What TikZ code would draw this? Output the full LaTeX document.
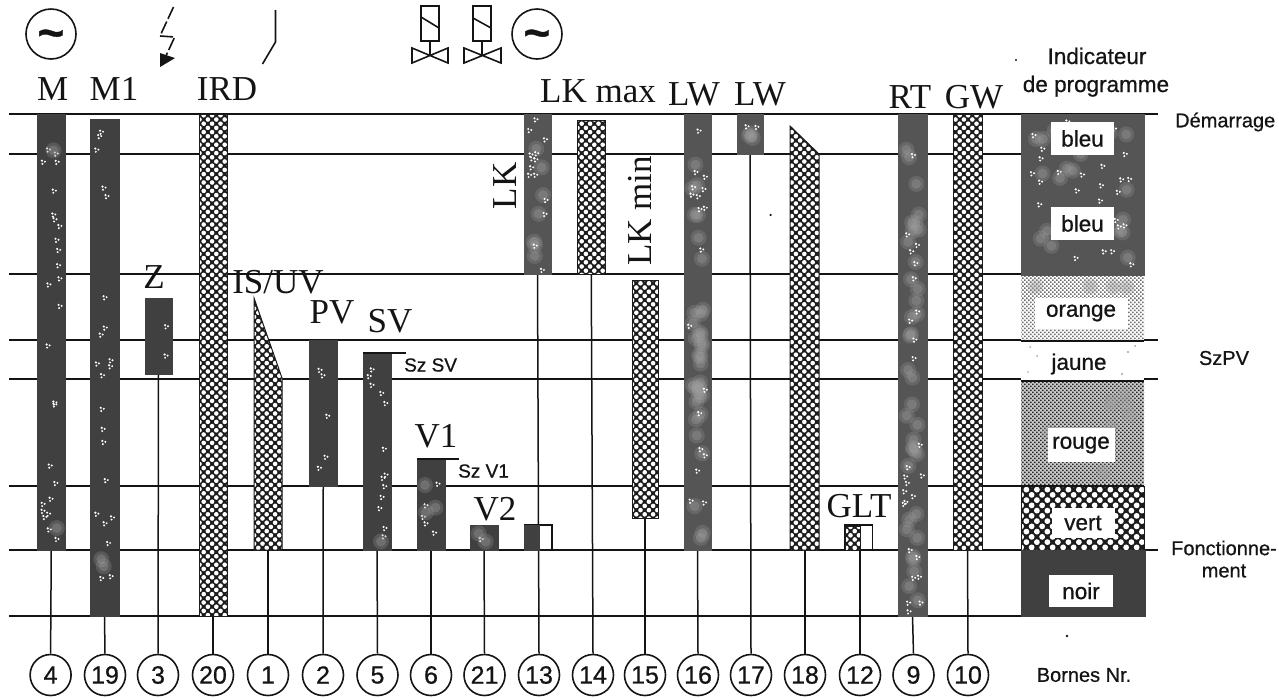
\documentclass[tikz,border=0pt]{standalone}
\usepackage{fontspec}
\setmainfont{Liberation Serif}
\newfontfamily\sansf{Liberation Sans}[RawFeature={embolden=0.7}]
\usetikzlibrary{patterns,arrows.meta,calc}
\pgfdeclarelayer{bg}\pgfsetlayers{bg,main}
\definecolor{ink}{HTML}{141414}
\definecolor{darkbar}{HTML}{404040}
\definecolor{midbar}{HTML}{555555}
\definecolor{hatch}{HTML}{1C1C1C}
\pgfdeclarepatternformonly{holes}{\pgfqpoint{-1pt}{-1pt}}{\pgfqpoint{9.5pt}{9.5pt}}{\pgfqpoint{8.4pt}{8.4pt}}{%
 \pgfpathcircle{\pgfqpoint{2.1pt}{2.1pt}}{2.3pt}\pgfpathcircle{\pgfqpoint{6.3pt}{6.3pt}}{2.3pt}\pgfusepath{fill}}
\pgfdeclarepatternformonly{holesB}{\pgfqpoint{-1pt}{-1pt}}{\pgfqpoint{13pt}{13pt}}{\pgfqpoint{10.5pt}{10.5pt}}{%
 \pgfpathcircle{\pgfqpoint{2.625pt}{2.625pt}}{2.9pt}\pgfpathcircle{\pgfqpoint{7.875pt}{7.875pt}}{2.9pt}\pgfusepath{fill}}
\pgfdeclarepatternformonly{finegrain}{\pgfqpoint{-1pt}{-1pt}}{\pgfqpoint{5pt}{5pt}}{\pgfqpoint{4pt}{4pt}}{%
 \pgfpathrectangle{\pgfqpoint{0pt}{0pt}}{\pgfqpoint{1.7pt}{1.5pt}}\pgfpathrectangle{\pgfqpoint{2pt}{2pt}}{\pgfqpoint{1.7pt}{1.5pt}}\pgfusepath{fill}}
\tikzset{
 x=1pt,y=-1pt,
 hline/.style={ink,line width=1.6pt},
 thick line/.style={ink,line width=2.6pt},
 vline/.style={ink,line width=1.5pt},
 solidbar/.style={rectangle,inner sep=0pt,outer sep=0pt,fill=darkbar,draw=darkbar,line width=.5pt},
 lightbar/.style={rectangle,inner sep=0pt,outer sep=0pt,fill=midbar,draw=midbar,line width=.5pt},
 hatchbar/.style={rectangle,inner sep=0pt,outer sep=0pt,draw=hatch,line width=1pt,preaction={fill=hatch},pattern=holes,pattern color=white},
 hatchbig/.style={rectangle,inner sep=0pt,outer sep=0pt,draw=hatch,line width=1pt,preaction={fill=hatch},pattern=holesB,pattern color=white},
 hatchshape/.style={draw=hatch,line width=1pt,preaction={fill=hatch},pattern=holes,pattern color=white},
 plainbar/.style={rectangle,inner sep=0pt,outer sep=0pt,draw=ink,line width=1.4pt,fill=white},
 term/.style={circle,draw=ink,line width=1.6pt,fill=white,minimum size=41pt,inner sep=0pt,font=\sansf\fontsize{25}{25}\selectfont,text=ink},
 lab/.style={inner sep=0pt,anchor=base,text=ink,font=\fontsize{35}{35}\selectfont},
 sidelab/.style={inner sep=0pt,text=ink,font=\sansf\fontsize{20}{20}\selectfont},
 tag/.style={inner sep=0pt,anchor=base,text=ink,font=\sansf\fontsize{22.5}{22.5}\selectfont},
 idxbox/.style={rectangle,fill=white,inner sep=0pt,text=ink,font=\sansf\fontsize{22.5}{22.5}\selectfont},
 sym/.style={ink,line width=1.6pt},
}
\newcommand{\barnode}[6]{% name x0 x1 ytop ybot style
 \pgfmathsetmacro\bw{#3-#2}\pgfmathsetmacro\bh{#5-#4}
 \node[#6,minimum width=\bw pt,minimum height=\bh pt] (#1) at ({(#2+#3)/2},{(#4+#5)/2}) {};}
\newcommand{\speck}[5]{% x0 x1 y0 y1 n
 \foreach \i in {1,...,#5}{
  \pgfmathsetmacro\sx{#1+4+rnd*(#2-#1-10)}
  \pgfmathsetmacro\sy{#3+4+rnd*(#4-#3-9)}
  \fill[white] (\sx,\sy) circle (1.2pt) (\sx+3,\sy+1) circle (1.1pt) (\sx+.5,\sy+3.2) circle (1.1pt);
 }}
\newcommand{\blot}[5]{% x0 x1 y0 y1 n
 \foreach \i in {1,...,#5}{
  \pgfmathsetmacro\sx{#1+8+rnd*(#2-#1-16)}
  \pgfmathsetmacro\sy{#3+8+rnd*(#4-#3-16)}
  \fill[gray!80,opacity=.28] (\sx,\sy) circle (8pt);
  \fill[gray!70,opacity=.3] (\sx,\sy) circle (5pt);
 }}
\begin{document}
\begin{tikzpicture}
\useasboundingbox (0,0) rectangle (1279,697);
\pgfmathsetseed{4711}
% bars
\barnode{bM}{37.5}{65}{114}{550}{solidbar}
\barnode{bMa}{90}{119}{119}{616}{solidbar}
\barnode{bZ}{145}{172}{298}{374}{solidbar}
\barnode{bIRD}{199}{227}{114}{616}{hatchbar}
\barnode{bPV}{309}{337.5}{340}{486}{solidbar}
\barnode{bSV}{363}{391}{353}{550}{solidbar}
\barnode{bVa}{417}{445}{459}{550}{solidbar}
\barnode{bVb}{470}{498}{525}{550}{solidbar}
\barnode{bXo}{524.5}{552}{525}{550}{plainbar}
\barnode{bXd}{524.5}{539}{525}{550}{solidbar}
\barnode{bLK}{524}{551}{114}{274}{lightbar}
\barnode{bLKx}{577.5}{605}{120}{274}{hatchbar}
\barnode{bLKn}{632}{658}{280}{518}{hatchbar}
\barnode{bLW}{684}{711}{114}{550}{lightbar}
\barnode{bLWb}{737}{763}{114}{154}{lightbar}
\barnode{bRT}{898}{927}{114}{616}{lightbar}
\barnode{bGW}{953}{982}{114}{550}{hatchbar}
\barnode{bGo}{845}{872.5}{525}{550}{plainbar}
\barnode{bGd}{845}{860}{526}{550}{hatchbar}
\draw[hatchshape] (254,298) -- (282,378) -- (282,550) -- (254,550) -- cycle;
\draw[hatchshape] (790,126) -- (819,154) -- (819,550) -- (790,550) -- cycle;
\coordinate (bIS) at (268,550);
\coordinate (bEi) at (805,550);
% indicator
\barnode{iBlue}{1021}{1144}{114}{275}{lightbar}
\barnode{iOrange}{1021}{1144}{276}{340}{rectangle,pattern=finegrain,pattern color=gray!85!black,preaction={fill=white}}
\barnode{iJaune}{1021}{1144}{341}{380}{rectangle,fill=white}
\barnode{iRouge}{1021}{1144}{381}{486}{rectangle,preaction={fill=gray!40},pattern=finegrain,pattern color=black!85}
\barnode{iVert}{1021}{1144}{486}{550}{hatchbig}
\barnode{iNoir}{1021}{1145}{550}{616}{solidbar}
% speckles
\speck{37.5}{65}{114}{550}{26}\blot{37.5}{65}{500}{550}{1}\blot{37.5}{65}{130}{160}{1}
\speck{90}{119}{119}{616}{22}\blot{90}{119}{550}{600}{2}
\speck{145}{172}{298}{374}{2}
\speck{309}{337.5}{340}{486}{5}
\speck{363}{391}{353}{550}{13}\blot{363}{391}{520}{550}{1}
\speck{417}{445}{459}{550}{5}\blot{417}{445}{475}{545}{3}
\speck{470}{498}{525}{550}{2}\blot{470}{498}{525}{550}{2}
\blot{524}{551}{130}{270}{7}\speck{524}{551}{114}{274}{14}
\blot{684}{711}{114}{550}{34}\speck{684}{711}{114}{550}{18}
\blot{737}{763}{114}{154}{3}\speck{737}{763}{114}{154}{2}
\blot{898}{927}{114}{616}{36}\speck{898}{927}{114}{616}{26}
\blot{1025}{1140}{116}{272}{22}\speck{1025}{1140}{116}{272}{36}
\blot{1025}{1140}{383}{484}{9}
\blot{1025}{1140}{278}{296}{4}
\fill[gray!70] (1030,347) circle (1pt) (1037,356) circle (1pt) (1028,372) circle (.9pt) (1128,352) circle (1.2pt) (1122,374) circle (1.2pt) (1135,346) circle (1pt);
% indicator labels
\node[idxbox,minimum width=63pt,minimum height=33pt] (tBa) at (1082.5,138.5) {bleu};
\node[idxbox,minimum width=63pt,minimum height=33pt] (tBb) at (1082.5,223.5) {bleu};
\node[idxbox,minimum width=93pt,minimum height=31pt] (tO) at (1081,313) {orange};
\node[inner sep=0pt,text=ink,font=\sansf\fontsize{22.5}{22.5}\selectfont] (tJ) at (1079,364) {jaune};
\node[idxbox,minimum width=67pt,minimum height=34pt] (tR) at (1081,445) {rouge};
\node[idxbox,minimum width=63pt,minimum height=30pt] (tV) at (1083,523) {vert};
\node[idxbox,minimum width=64pt,minimum height=32pt] (tN) at (1081,591) {noir};
% terminals
\node[term] (c4) at (50.6,675) {4};
\node[term] (c19) at (105,675) {19};
\node[term] (c3) at (158,675) {3};
\node[term] (c20) at (213,675) {20};
\node[term] (c1) at (268,675) {1};
\node[term] (c2) at (323,675) {2};
\node[term] (c5) at (377.5,675) {5};
\node[term] (c6) at (431,675) {6};
\node[term] (c21) at (484.5,675) {21};
\node[term] (c13) at (539,675) {13};
\node[term] (c14) at (593,675) {14};
\node[term] (c15) at (645,675) {15};
\node[term] (c16) at (698,675) {16};
\node[term] (c17) at (751,675) {17};
\node[term] (c18) at (805,675) {18};
\node[term] (c12) at (860,675) {12};
\node[term] (c9) at (913.5,675) {9};
\node[term] (c10) at (968,675) {10};
% grid and connectors behind
\begin{pgfonlayer}{bg}
\foreach \yy/\xe/\st in {114/1157.5/thick line,154/1021/hline,274/1021/hline,340/1157.5/hline,379/1157.5/hline,486/1021/hline,550/1157.5/thick line,616/1021/hline}{
 \coordinate (la) at (9,\yy); \coordinate (lb) at (\xe,\yy);
 \draw[\st] (la) -- (lb);}
\draw[vline] (bM.south) -- (c4.north);
\draw[vline] (bMa.south) -- (c19.north);
\draw[vline] (bZ.south) -- (c3.north);
\draw[vline] (bIRD.south) -- (c20.north);
\draw[vline] (bIS) -- (c1.north);
\draw[vline] (bPV.south) -- (c2.north);
\draw[vline] (bSV.south) -- (c5.north);
\draw[vline] (bVa.south) -- (c6.north);
\draw[vline] (bVb.south) -- (c21.north);
\draw[vline] (bLK.south) -- (c13.north);
\draw[vline] (bLKx.south) -- (c14.north);
\draw[vline] (bLKn.south) -- (c15.north);
\draw[vline] (bLW.south) -- (c16.north);
\draw[vline] (bLWb.south) -- (c17.north);
\draw[vline] (bEi) -- (c18.north);
\draw[vline] (bGo.south -| c12.north) -- (c12.north);
\draw[vline] (bRT.south) -- (c9.north);
\draw[vline] (bGW.south) -- (c10.north);
\end{pgfonlayer}
% SV, V1 limits
\draw[hline] (bSV.north west) -- (406,353);
\draw[hline] (bVa.north west) -- (459,459);
% lines over the indicator
\draw[hline] (iJaune.north west) -- (iJaune.north east);
\draw[hline] (iRouge.north west) -- (iRouge.north east);
\draw[hline] (iRouge.south west) -- (iRouge.south east);
% column labels
\node[lab] (lM) at (52.6,100) {M};
\node[lab] (lMa) at (114,100) {M1};
\node[lab] (lIRD) at (227,100) {IRD};
\node[lab,anchor=base west] (lLKx) at (540,102) {LK max};
\node[lab] (lLWa) at (694,105) {LW};
\node[lab] (lLWb) at (760,105) {LW};
\node[lab] (lRT) at (910,108) {RT};
\node[lab] (lGW) at (974,108) {GW};
\node[lab] (lZ) at (154,288) {Z};
\node[lab] (lIS) at (278,293) {IS/UV};
\node[lab] (lPV) at (332,323) {PV};
\node[lab] (lSV) at (390,332) {SV};
\node[lab] (lVa) at (436,447) {V1};
\node[lab] (lVb) at (495,520) {V2};
\node[lab] (lGLT) at (859,517) {GLT};
\node[lab,anchor=center,rotate=90] (lLK) at (505,186) {LK};
\node[lab,anchor=center,rotate=90] (lLKn) at (640,211) {LK min};
\node[tag,anchor=west,font=\sansf\fontsize{19}{19}\selectfont] (lSzSV) at (404,365) {Sz SV};
\node[tag,anchor=west,font=\sansf\fontsize{19}{19}\selectfont] (lSzVa) at (458,471) {Sz V1};
% right side text
\node[tag] (tIa) at (1097,64) {Indicateur};
\node[tag] (tIb) at (1096,92) {de programme};
\node[sidelab,anchor=west] (tD) at (1175,122) {Démarrage};
\node[sidelab] (tSz) at (1224,358) {SzPV};
\node[sidelab] (tFa) at (1224,548) {Fonctionne-};
\node[sidelab] (tFb) at (1224,571) {ment};
\node[sidelab] (tB) at (1084,675) {Bornes Nr.};
% symbols
\draw[sym] (51,34) circle (25pt);
\draw[sym] (537,34) circle (25pt);
\node[inner sep=0pt,text=ink,font=\sansf\bfseries\fontsize{46}{46}\selectfont] (tilA) at (51,39) {\textasciitilde};
\node[inner sep=0pt,text=ink,font=\sansf\bfseries\fontsize{46}{46}\selectfont] (tilB) at (537,39) {\textasciitilde};
\draw[sym,dash pattern=on 13pt off 3pt] (173.5,7) -- (160,36) -- (174.7,37) -- (165,58);
\fill[ink] (160,67) -- (160,53) -- (175,58) -- cycle;
\draw[sym] (275.5,10) -- (275.5,42) -- (262.5,64);
\draw[sym] (421,6) rectangle (439,41);
\draw[sym] (421,17) -- (439,28);
\draw[sym] (430,41) -- (430,55);
\draw[sym] (412,48) -- (412,63) -- (448,48) -- (448,63) -- cycle;
\draw[sym] (473,6) rectangle (491,41);
\draw[sym] (473,18) -- (491,28);
\draw[sym] (482,41) -- (482,55);
\draw[sym] (464,48) -- (464,63) -- (501,48) -- (501,63) -- cycle;
% stray specks
\fill[ink] (770.6,215) circle (1.2pt) (1016,60) circle (1.1pt) (1067,636) circle (1.3pt);
\end{tikzpicture}
\end{document}
